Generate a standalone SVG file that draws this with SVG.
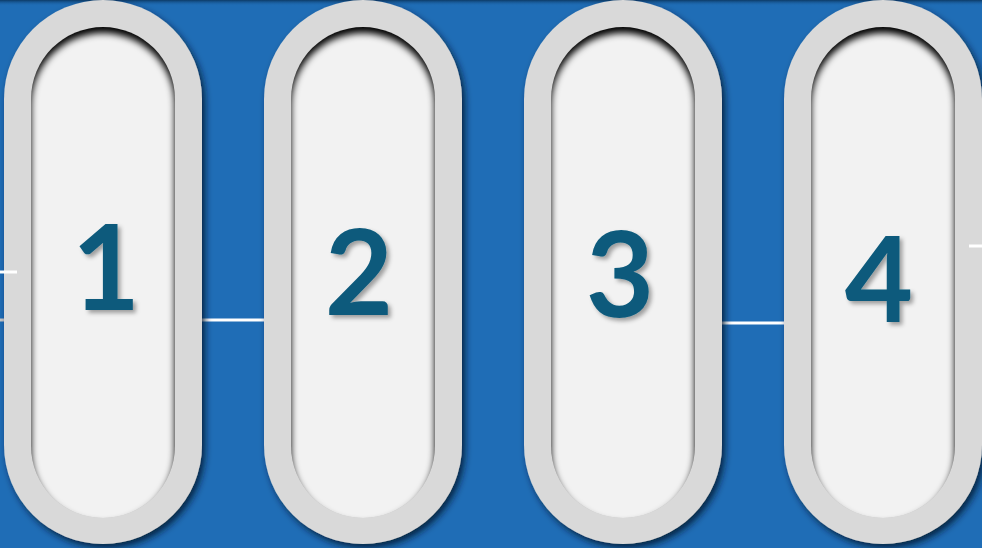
<svg xmlns="http://www.w3.org/2000/svg" width="982" height="548" viewBox="0 0 982 548">
  <defs>
    <linearGradient id="topband" x1="0" y1="0" x2="0" y2="1">
      <stop offset="0" stop-color="#0c3a66"/>
      <stop offset="1" stop-color="#1f6db6" stop-opacity="0"/>
    </linearGradient>
    <filter id="drop" x="-20%" y="-10%" width="140%" height="120%">
      <feGaussianBlur in="SourceAlpha" stdDeviation="3.5"/>
      <feOffset dx="3" dy="4" result="b"/>
      <feFlood flood-color="#04182e" flood-opacity="0.85"/>
      <feComposite in2="b" operator="in"/>
      <feMerge><feMergeNode/><feMergeNode in="SourceGraphic"/></feMerge>
    </filter>
    <filter id="blur" x="-20%" y="-10%" width="140%" height="120%">
      <feGaussianBlur stdDeviation="3.5"/>
    </filter>
    <filter id="tshadow" x="-20%" y="-20%" width="150%" height="150%">
      <feGaussianBlur in="SourceAlpha" stdDeviation="2"/>
      <feOffset dx="3" dy="3" result="b"/>
      <feFlood flood-color="#000" flood-opacity="0.35"/>
      <feComposite in2="b" operator="in"/>
      <feMerge><feMergeNode/><feMergeNode in="SourceGraphic"/></feMerge>
    </filter>
    <path id="hole" fill-rule="evenodd" fill="#000" d="M-30,-40 H174 V531 H-30 Z M0,72 A72,72 0 0 1 144,72 V419 A72,72 0 0 1 0,419 Z"/>
    <clipPath id="c1"><rect x="31" y="27" width="144" height="491" rx="72"/></clipPath>
    <clipPath id="c2"><rect x="291" y="27" width="144" height="491" rx="72"/></clipPath>
    <clipPath id="c3"><rect x="551" y="27" width="144" height="491" rx="72"/></clipPath>
    <clipPath id="c4"><rect x="811" y="27" width="144" height="491" rx="72"/></clipPath>
  </defs>
  <style>
    .outer { fill: #d9d9d9; filter: url(#drop); }
    .inner { fill: #f2f2f2; }
    .num { font-family: Lato, "Open Sans", "Liberation Sans", sans-serif; font-weight: 700; font-size: 118px; fill: #0b5a7b; text-anchor: middle; filter: url(#tshadow); }
    .conn { stroke: #ffffff; stroke-width: 3; fill: none; }
  </style>
  <rect x="0" y="0" width="982" height="548" fill="#1f6db6"/>
  <rect x="0" y="0" width="982" height="6" fill="url(#topband)"/>
  <g id="connectors">
    <line class="conn" x1="0" y1="320" x2="6" y2="320" style="stroke:#c9c9c9"/>
    <line class="conn" x1="200" y1="320" x2="266" y2="320"/>
    <line class="conn" x1="720" y1="323" x2="786" y2="323"/>
  </g>
  <g id="node1">
    <rect class="outer" x="4" y="0" width="198" height="544" rx="99"/>
    <g clip-path="url(#c1)">
      <rect class="inner" x="31" y="27" width="144" height="491" rx="72"/>
      <g filter="url(#blur)"><use href="#hole" x="31" y="33"/></g>
    </g>
    <text class="num" x="106" y="310">1</text>
  </g>
  <g id="node2">
    <rect class="outer" x="264" y="0" width="198" height="544" rx="99"/>
    <g clip-path="url(#c2)">
      <rect class="inner" x="291" y="27" width="144" height="491" rx="72"/>
      <g filter="url(#blur)"><use href="#hole" x="291" y="33"/></g>
    </g>
    <text class="num" x="359" y="315">2</text>
  </g>
  <g id="node3">
    <rect class="outer" x="524" y="0" width="198" height="544" rx="99"/>
    <g clip-path="url(#c3)">
      <rect class="inner" x="551" y="27" width="144" height="491" rx="72"/>
      <g filter="url(#blur)"><use href="#hole" x="551" y="33"/></g>
    </g>
    <text class="num" x="620" y="317">3</text>
  </g>
  <g id="node4">
    <rect class="outer" x="784" y="0" width="198" height="544" rx="99"/>
    <g clip-path="url(#c4)">
      <rect class="inner" x="811" y="27" width="144" height="491" rx="72"/>
      <g filter="url(#blur)"><use href="#hole" x="811" y="33"/></g>
    </g>
    <text class="num" x="879" y="322">4</text>
  </g>
  <g id="edge-stubs">
    <line class="conn" x1="0" y1="272" x2="17" y2="272"/>
    <line class="conn" x1="969" y1="246" x2="982" y2="246"/>
  </g>
</svg>
